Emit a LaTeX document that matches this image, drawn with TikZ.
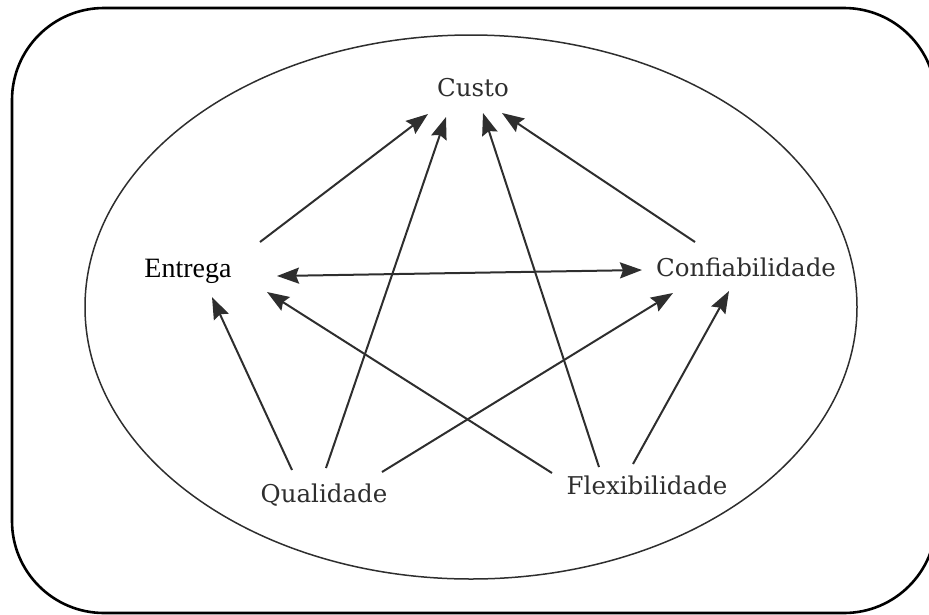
\documentclass[tikz,border=0pt]{standalone}
\usepackage{fontspec}
\setmainfont{DejaVu Serif}
\newfontfamily\entfont{Liberation Serif}
\usetikzlibrary{arrows.meta}
\definecolor{ink}{HTML}{2E2E2E}
\begin{document}
\begin{tikzpicture}[x=1pt,y=-1pt,
  lbl/.style={anchor=base,inner sep=0pt,text=ink,font=\fontsize{24.5}{29}\selectfont},
  conn/.style={draw=ink,line width=2pt,-{Stealth[length=22pt,width=16pt,inset=3pt]}},
  bconn/.style={draw=ink,line width=2pt,{Stealth[length=22pt,width=16pt,inset=3pt]}-{Stealth[length=22pt,width=16pt,inset=3pt]}}]
\useasboundingbox (0,0) rectangle (929,614);
\clip (0,0) rectangle (929,614);
\draw[line width=2.6pt,rounded corners=92pt] (12,8) rectangle (936,613);
\draw[ink,line width=1.5pt] (471,307) ellipse [x radius=386, y radius=272];
% labels
\node[lbl] (custo) at (473,96) {Custo};
\node[lbl,text=black,font=\entfont\fontsize{28}{32}\selectfont] (entrega) at (188,277) {Entrega};
\node[lbl] (conf) at (746,276) {Confiabilidade};
\node[lbl] (qual) at (324,502) {Qualidade};
\node[lbl] (flex) at (647,494) {Flexibilidade};
% connector ends
\coordinate (cuA) at (428,114);
\coordinate (cuB) at (446,117);
\coordinate (cuC) at (483,113);
\coordinate (cuD) at (502,113);
\coordinate (enT) at (260,242);
\coordinate (enR) at (277,276);
\coordinate (enQ) at (212,297);
\coordinate (enF) at (267,292);
\coordinate (coT) at (695,242);
\coordinate (coL) at (642,270);
\coordinate (coQ) at (673,293);
\coordinate (coF) at (729,291);
\coordinate (quA) at (292,470);
\coordinate (quB) at (326,468);
\coordinate (quC) at (382,472);
\coordinate (flA) at (552,473);
\coordinate (flB) at (599,467);
\coordinate (flC) at (633,464);
% connectors
\draw[conn] (enT) -- (cuA);
\draw[conn] (quB) -- (cuB);
\draw[conn] (flB) -- (cuC);
\draw[conn] (coT) -- (cuD);
\draw[bconn] (enR) -- (coL);
\draw[conn] (quA) -- (enQ);
\draw[conn] (flA) -- (enF);
\draw[conn] (quC) -- (coQ);
\draw[conn] (flC) -- (coF);
\end{tikzpicture}
\end{document}
